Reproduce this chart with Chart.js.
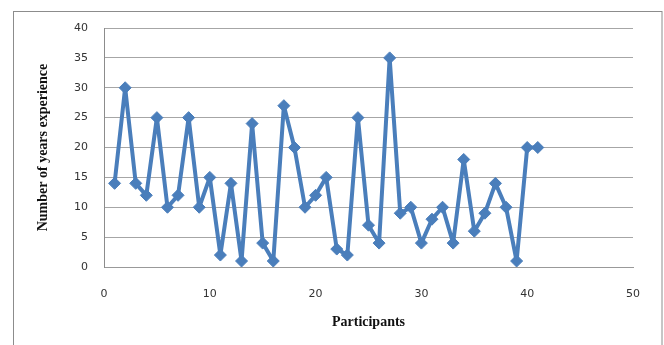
<!DOCTYPE html>
<html>
<head>
<meta charset="utf-8">
<script src="https://cdn.jsdelivr.net/npm/chart.js@4"></script>
<style>
html,body{margin:0;padding:0;background:#fff;}
#wrap{width:664px;height:345px;position:relative;}
</style>
</head>
<body>
<div id="wrap"><canvas id="c" width="664" height="345"></canvas></div>
<script>
const participants = [1,2,3,4,5,6,7,8,9,10,11,12,13,14,15,16,17,18,19,20,21,22,23,24,25,26,27,28,29,30,31,32,33,34,35,36,37,38,39,40,41];
const yearsExperience = [14,30,14,12,25,10,12,25,10,15,2,14,1,24,4,1,27,20,10,12,15,3,2,25,7,4,35,9,10,4,8,10,4,18,6,9,14,10,1,20,20];
const xTitle = 'Participants';
const yTitle = 'Number of years experience';

const points = participants.map((p, i) => ({x: p, y: yearsExperience[i]}));

const framePlugin = {
  id: 'frame',
  afterDraw(chart) {
    const ctx = chart.ctx;
    ctx.save();
    ctx.strokeStyle = '#8c8c8c';
    ctx.lineWidth = 1;
    ctx.strokeRect(13.5, 11.5, 648.5, 340);
    ctx.restore();
  }
};

new Chart(document.getElementById('c'), {
  type: 'line',
  data: {
    datasets: [{
      data: points,
      borderColor: '#4A7EBB',
      backgroundColor: '#4A7EBB',
      borderWidth: 4,
      borderJoinStyle: 'round',
      borderCapStyle: 'round',
      pointStyle: 'rectRot',
      pointRadius: 6,
      pointBorderWidth: 1,
      pointBorderColor: '#4A7EBB',
      pointBackgroundColor: '#4A7EBB',
      tension: 0,
      fill: false
    }]
  },
  options: {
    responsive: false,
    animation: false,
    events: [],
    layout: { padding: { left: 0, right: 31, top: 28, bottom: 0 } },
    plugins: { legend: { display: false }, tooltip: { enabled: false } },
    scales: {
      x: {
        type: 'linear',
        min: 0, max: 50,
        ticks: { stepSize: 10, padding: 21, color: '#333', font: { family: 'DejaVu Sans', size: 11 }, maxRotation: 0 },
        grid: { display: false, drawTicks: false },
        border: { display: true, color: '#999', width: 1 },
        title: { display: true, text: xTitle, color: '#111', padding: { top: 0, bottom: 14 }, font: { family: 'Liberation Serif', size: 14, weight: 'bold' } },
        afterFit(scale) { scale.height = 78; }
      },
      y: {
        min: 0, max: 40,
        ticks: { stepSize: 5, padding: 16, color: '#333', font: { family: 'DejaVu Sans', size: 11 } },
        grid: { color: '#a6a6a6', lineWidth: 1, drawTicks: false },
        border: { display: true, color: '#8c8c8c', width: 1 },
        title: { display: true, text: yTitle, color: '#111', padding: { top: 35, bottom: 0 }, font: { family: 'Liberation Serif', size: 14, weight: 'bold' } },
        afterFit(scale) { scale.width = 104; }
      }
    }
  },
  plugins: [framePlugin]
});
</script>
</body>
</html>
